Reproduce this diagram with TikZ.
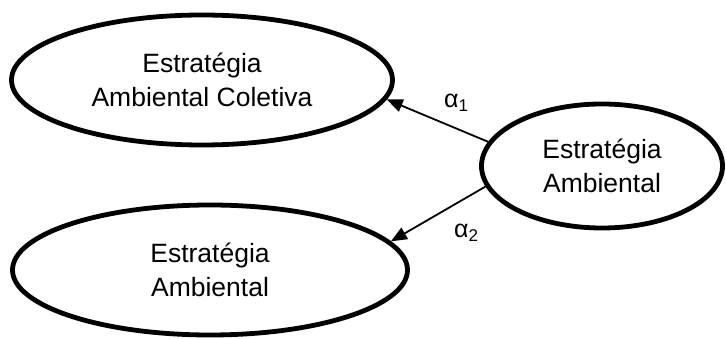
\documentclass[tikz,border=0pt]{standalone}
\usepackage{fontspec}
\setmainfont{Liberation Sans}
\usetikzlibrary{shapes.geometric,arrows.meta}
\begin{document}
\begin{tikzpicture}[x=1pt,y=-1pt,
  construct/.style={ellipse,draw,line width=4.8pt,inner sep=0pt,align=center,
    font=\fontsize{26.5}{34}\selectfont},
  path/.style={line width=1.8pt,-{Triangle[length=16pt,width=13pt]}},
  coef/.style={font=\fontsize{25}{30}\selectfont,inner sep=0pt}]
  \useasboundingbox (0,0) rectangle (726,339);
  % latent constructs
  \node[construct,minimum width=381pt,minimum height=130pt] (col) at (202,80)
    {Estratégia\\Ambiental Coletiva};
  \node[construct,minimum width=395pt,minimum height=130pt] (amb) at (210,270)
    {Estratégia\\Ambiental};
  \node[construct,minimum width=241pt,minimum height=124pt] (src) at (602,166)
    {Estratégia\\Ambiental};
  % structural paths
  \draw[path] (src.168) -- (col.354);
  \draw[path] (src.190) -- (amb.9);
  % path coefficients
  \node[coef] (a1) at (456,103) {α\raisebox{-4pt}{\fontsize{17}{20}\selectfont 1}};
  \node[coef] (a2) at (466,233) {α\raisebox{-4pt}{\fontsize{17}{20}\selectfont 2}};
\end{tikzpicture}
\end{document}
